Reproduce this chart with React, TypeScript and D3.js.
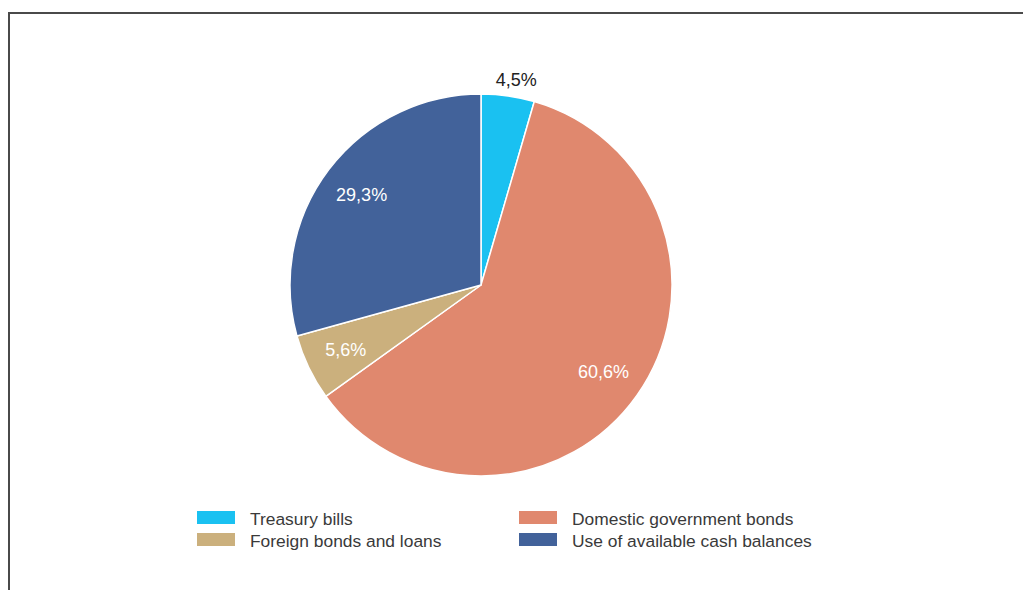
import React from "react";
import * as d3 from "d3";

const categories = ["Treasury bills", "Domestic government bonds", "Foreign bonds and loans", "Use of available cash balances"];
const values = [4.5, 60.6, 5.6, 29.3];
const labels = ["4,5%", "60,6%", "5,6%", "29,3%"];
const colors = ["#1AC1F1", "#E0886E", "#CBB07D", "#42629A"];
const legendOrder = [0, 1, 2, 3];

export default function App() {
  const W = 1023, H = 590;
  const cx = 481, cy = 285, r = 191;
  const pie = d3.pie<number>().sort(null).value((d) => d)(values);
  const arc = d3.arc<d3.PieArcDatum<number>>().innerRadius(0).outerRadius(r);
  const labelArc = d3.arc<d3.PieArcDatum<number>>().innerRadius(150).outerRadius(150);
  const outerArc = d3.arc<d3.PieArcDatum<number>>().innerRadius(207).outerRadius(207);
  const font = "'Liberation Sans', Arial, Helvetica, sans-serif";

  const legendX = d3.scaleOrdinal<number, number>().domain([0, 1]).range([197, 519]);
  const legendY = d3.scaleOrdinal<number, number>().domain([0, 1]).range([511, 533]);

  return (
    <svg width={W} height={H} style={{ position: "absolute", left: 0, top: 0, background: "#fff" }}>
      <rect x={9} y={13} width={W + 20} height={H + 20} fill="none" stroke="#4a4a4a" strokeWidth={2} />
      <g transform={`translate(${cx},${cy})`}>
        {pie.map((p, i) => (
          <path key={i} d={arc(p) || ""} fill={colors[i]} stroke="#fff" strokeWidth={1.5} strokeLinejoin="round" />
        ))}
        {pie.map((p, i) => {
          const outside = values[i] < 5;
          const [x, y] = outside ? outerArc.centroid(p) : labelArc.centroid(p);
          return (
            <text key={i} x={outside ? x + 6 : x} y={y} dy="0.35em" textAnchor="middle" fontFamily={font} fontSize={18}
              fill={outside ? "#222" : "#fff"}>
              {labels[i]}
            </text>
          );
        })}
      </g>
      {legendOrder.map((i) => {
        const col = i % 2 === 0 ? 0 : 1;
        const row = i < 2 ? 0 : 1;
        const x = legendX(col), y = legendY(row);
        return (
          <g key={i}>
            <rect x={x} y={y} width={38} height={13} fill={colors[i]} />
            <text x={x + 53} y={y + 13.5} fontFamily={font} fontSize={17.4} fill="#3a3a3a">{categories[i]}</text>
          </g>
        );
      })}
    </svg>
  );
}
